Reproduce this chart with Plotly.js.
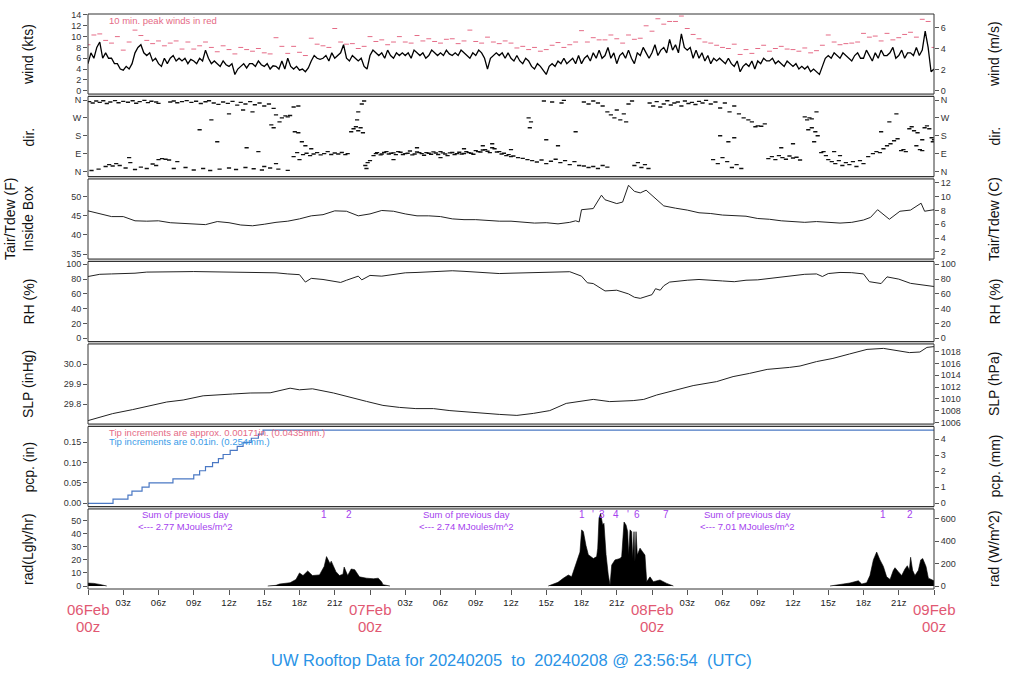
<!DOCTYPE html>
<html><head><meta charset="utf-8">
<script src="https://cdn.plot.ly/plotly-3.0.1.min.js"></script>
<style>html,body{margin:0;padding:0;background:#fff}#chart{width:1024px;height:700px}</style>
</head><body><div id="chart"></div>
<script>
// ---------------- DATA (hours since 06Feb 00z) ----------------
const WIND_STEP = 0.25;
const windMean = [
5,7,6,8, 9,6,7,6, 6,5,5,4, 3.8,4.5,4,5, 7,8,8.5,7, 6.5,7,5.5,6, 5,4.5,6,5, 6,6.5,5.5,6,
5.5,6,5,5.8, 5.5,5,6,5.5, 7.5,6,5,5.5, 5,4.5,5.5,4.8, 4.5,5,3,4, 4.5,5,4.2,5, 5,4.5,5.5,4.8, 4.5,5,4,4.6,
4.5,4,5.5,4, 6,4.5,4,4.5, 3.8,4,3.5,4.2, 5.5,6.5,6,5.8, 6,6.5,5.5,7, 6,6.5,7,8.5, 6,5.5,6.5,6, 5.5,6,4.5,4,
6.5,7.5,7,6.5, 7,6,7.5,6.5, 6,7,6.5,7, 6.5,7,6,7.5, 7,6.5,7,6, 6.5,7.5,7,6.5, 7,6.5,7.5,6.8, 6.5,7,6.5,7.5,
7,6.5,6,7, 6.5,7.5,7,6, 4,6,6.5,7, 6.5,7,6,7,
6,5.5,6.5,5.5, 5,6,5.5,4.5, 4,5,4.5,3.8, 3,4.5,5,4.5, 5.5,5,6,5, 5.5,6,5,6.5, 5,6,6.5,5.5, 7,6,7.5,6,
6.5,8,6,7, 5,6.5,7,6, 7.5,6,5,7, 6.5,8,7,6, 7,8.5,6.5,7.5, 8,7,9.5,7.5, 8.5,7,10.5,8, 7.5,8,6,7.5,
6,7,5.5,6.5, 5,6,5.5,6, 5.5,5,6,5, 4.5,5.5,3.5,4.5, 5,4.5,5.5,4, 5.5,5,6,5.5, 5.5,6,5,5.5, 5,4.5,5.5,5,
4.5,5,4,4.5, 4,4.5,3.5,4, 3.5,3,4.5,6, 6.5,6,7,6.5, 6,7,6.5,6, 5.5,6.5,7,6, 6,7.5,6.5,5.5, 7,6,7.5,6.5,
6.5,7,8,6, 6.5,7.5,6,7, 7,6.5,8,6.5, 7.5,11,8,3.5,
4];
const PEAK_STEP = 0.5;
const windPeak = [
8.5,10.3, 10.5,9.3, 8.8,10.0, 7.5,9.0, 11.2,10.2, 9.3,8.7, 9.2,8.3, 8.8,9.2, 7.7,9.0, 7.7,8.3, 9.0,8.0, 7.2,8.3,
7.6,6.8, 8.0,7.6, 7.3,7.8, 7.0,6.8, 9.8,8.2, 6.9,8.2, 7.1,6.5, 9.7,8.6, 8.3,8.0, 11.5,9.0, 8.6,8.7, 7.8,8.2,
10.0,9.1, 9.4,8.5, 9.0,10.0, 9.0,8.8, 10.2,9.2, 9.6,9.1, 8.8,9.5, 9.6,8.7, 9.2,11.2, 9.1,8.8, 9.9,9.0, 8.7,9.2,
8.8,7.9, 8.2,7.6, 8.0,7.3, 7.6,8.4, 8.9,8.0, 8.5,9.0, 11.1,9.0, 9.8,9.4, 9.4,10.3, 9.6,8.8, 10.3,9.5, 9.7,12.0,
11.0,13.3, 12.3,12.8, 12.8,13.8, 11.5,10.4, 9.6,9.0, 8.8,8.4, 8.0,7.8, 8.6,6.7, 7.6,6.9, 7.8,8.4, 7.3,7.8, 8.2,7.7,
7.6,7.3, 7.9,7.0, 7.4,8.4, 10.3,9.0, 8.5,8.7, 8.8,9.0, 10.6,9.9, 10.1,9.2, 10.6,9.4, 9.8,10.4, 10.8,9.9, 13.2,12.8,
8.0];

const dirHour = [
0.1,0.4,0.7,1.0,1.3,1.6,1.9,2.3,2.6,3.0,3.4,3.8,4.1,4.4,4.8,5.1,5.4,5.8,6.0,
0.3,0.9,1.5,1.8,2.1,2.4,2.7,3.2,3.5,3.6,4.0,4.5,5.0,5.5,5.8,6.0,6.3,6.6,6.9,7.3,7.6,
7.0,7.3,7.6,8.0,8.4,8.8,9.2,9.6,10.0,10.3,10.7,11.1,11.5,11.9,12.3,12.7,13.0,13.4,13.8,14.2,14.6,15.0,15.4,15.8,
9.5,10.5,12.0,13.2,14.0,16.0,16.5,16.8,17.0,17.2,16.3,15.6,15.8,17.5,17.9,11.0,13.5,14.5,16.0,15.0,
8.3,9.0,9.8,10.4,11.2,12.0,12.6,13.4,14.1,14.8,15.5,16.2,17.0,
17.5,17.8,18.0,18.3,18.6,18.9,19.2,19.5,19.8,20.1,20.4,20.7,21.0,21.3,21.6,21.9,22.1,
17.6,17.9,18.2,18.5,19.0,
22.4,22.6,22.8,23.0,23.2,23.4,23.0,23.3,23.5,22.9,
23.6,23.7,23.8,24.0,
24.3,24.6,25.0,25.4,25.8,26.2,26.6,27.0,27.4,27.8,28.2,28.6,29.0,29.4,29.8,30.2,30.6,31.0,31.4,31.8,32.2,32.6,33.0,33.4,33.8,34.2,34.6,35.0,35.4,35.8,36.2,36.6,37.0,37.4,
24.5,24.9,25.2,25.6,26.0,26.4,26.8,27.2,27.6,28.0,28.4,28.8,29.2,29.6,30.0,30.4,30.8,31.2,31.6,32.0,32.4,32.8,33.2,33.6,34.0,34.4,34.8,35.2,35.6,36.0,
26.0,28.0,30.0,32.0,33.6,34.4,36.0,
37.8,38.2,38.6,39.0,39.4,39.8,40.2,40.6,41.0,41.4,41.8,42.2,42.6,43.0,43.4,43.8,44.2,
37.5,37.7,37.6,38.8,39.5,40.3,40.5,39.0,40.0,41.5,
42.2,42.6,43.0,43.4,43.8,44.2,44.5,44.8,45.0,45.3,45.6,46.0,46.3,45.8,
46.5,46.8,47.1,47.4,47.7,
47.8,48.1,48.4,48.7,49.0,49.3,49.6,49.9,50.2,50.5,50.8,51.1,51.4,51.7,52.0,52.3,52.6,53.0,53.4,53.8,54.2,54.6,55.0,55.4,
53.2,53.6,54.0,54.4,54.8,55.2,55.6,54.5,55.0,53.8,
55.8,56.2,56.5,56.8,57.0,57.3,57.6,
57.9,58.2,58.5,58.8,59.1,59.4,59.7,60.0,60.3,60.6,59.0,60.0,
61.0,61.2,61.4,61.6,61.3,61.6,61.9,62.1,61.8,62.0,
62.4,62.6,62.8,63.0,63.3,63.6,63.9,64.2,64.5,64.8,65.1,65.4,65.7,66.0,64.0,63.5,
66.4,66.8,67.1,67.4,67.7,68.0,68.3,68.6,68.9,67.5,68.2,68.8,
69.2,69.4,69.6,69.9,70.1,70.3,70.6,70.8,71.0,71.2,71.4,71.6,71.8,71.9,72.0,70.5,71.0];
const dirDeg = [
352,345,355,348,356,342,350,357,346,353,349,356,344,352,358,347,354,350,343,
5,12,25,35,28,40,30,18,70,45,10,22,15,38,30,60,65,62,58,15,50,
350,355,346,352,357,348,354,342,351,356,345,338,350,343,353,334,348,340,352,336,345,330,340,318,
210,260,290,310,300,285,270,280,275,282,250,235,220,325,330,150,120,100,40,25,
20,8,15,5,12,18,10,20,14,8,18,12,6,
75,95,60,85,92,80,88,95,84,90,100,86,93,88,96,85,90,
200,195,150,130,115,
200,215,225,205,220,195,300,340,355,260,
30,15,45,55,
80,95,88,100,92,85,97,90,103,88,95,82,92,99,86,94,80,96,90,88,100,92,105,98,110,95,115,100,92,85,78,70,66,60,
90,84,96,88,94,100,86,92,84,98,90,95,87,93,100,88,94,86,97,91,95,87,100,108,102,120,98,88,80,75,
60,120,70,115,130,140,110,
55,48,58,40,52,62,45,55,35,50,30,28,20,25,15,30,22,
270,250,220,355,350,345,358,160,130,200,
350,340,355,345,330,300,285,270,310,260,290,340,355,250,
30,45,20,35,15,
345,330,352,325,340,356,335,345,350,330,355,342,348,337,353,345,358,340,350,320,345,300,330,290,
60,40,70,50,20,35,15,150,170,180,
270,260,250,225,230,228,240,
65,75,60,80,70,62,78,68,72,58,120,140,
275,260,270,265,210,220,200,180,150,300,
95,100,80,60,50,40,55,30,45,35,50,25,55,40,80,100,
75,90,100,95,115,130,140,155,165,200,250,290,
105,110,100,215,225,205,195,110,105,220,230,215,170,150,160,130,160];

const tempHour = [0,1,2,3,4,5,6,7,8,9, 10,11,12,13,14,15,16,17,18,19, 20,21,22,23,24,25,26,27,28,29,
 30,31,32,33,34,35,36,37,38,39, 40,41,41.5,41.8,42,43,43.7,44,45,45.5, 46,46.5,47,47.5,48,49,50,51,52,53,
 54,55,56,57,58,59,60,61,62,63, 64,65,66,66.6,67.2,68.2,69.1,70,70.9,71.2, 72];
const tempF = [46.3,45.5,44.8,44.8,43.7,43.6,43.7,43.2,43.0,42.9, 42.7,43.5,43.2,42.6,42.4,42.8,43.3,43.6,44.2,45.0,
 45.3,46.3,46.2,45.0,45.5,46.4,46.2,45.5,45.0,45.0, 44.8,44.2,44.0,44.0,43.8,43.6,43.6,43.4,43.1,43.2,
 42.9,43.3,43.7,43.4,46.6,46.9,50.4,49.2,48.2,48.6, 53.0,51.4,51.0,51.7,50.3,47.6,47.0,46.5,45.8,45.6,
 45.2,45.0,44.9,44.3,44.1,43.7,43.5,43.3,43.5,43.3, 43.1,43.3,43.9,44.6,46.6,44.1,46.2,46.5,48.3,46.2, 46.6];

const rhHour = [0,1,2,3,4,5,6,7,8,9, 10,11,12,13,14,15,16,17,18,18.5, 19,20,21,21.5,22,23,23.3,24,25,26,
 27,28,29,30,31,32,33,34,35,36, 37,38,39,40,41,42,42.5,43,44,45, 46,46.5,47,48,48.3,48.7,49,49.5,50,51,
 52,53,54,55,56,57,58,59,60,61, 62,62.5,63,64,65,66,66.5,67,67.5,68, 69,70,71,72];
const rhPct = [83.5,86.5,87.0,87.3,88.0,89.5,90.0,89.7,90.0,90.2, 90.0,89.5,89.5,89.0,89.0,88.7,88.5,87.0,86.0,76.0,
 81.0,79.5,76.5,75.5,78.5,84.0,79.0,85.0,84.0,86.5, 88.5,89.0,89.5,90.5,91.3,90.5,89.5,88.5,87.5,88.0,
 88.5,89.0,89.2,89.5,90.0,84.0,75.0,74.0,64.0,65.0, 60.0,55.5,54.0,59.0,67.0,65.0,71.0,76.0,77.0,78.5,
 79.5,79.0,77.5,76.5,78.5,79.0,81.0,83.0,85.5,86.5, 87.0,83.5,87.5,89.0,88.7,87.0,76.5,75.5,74.0,83.0,
 80.0,74.3,72.0,70.0];

const slpHour = [0,2.1,3.8,5.8,6.7,8.1,9.8,12.3,13.8,15.5, 17.2,18.0,19.1,20.9,22.3,23.7,25.1,26.5,27.9,29.4,
 30.8,32.2,33.6,35.0,36.5,37.9,39.3,40.7,43.0,44.4, 46.4,47.3,48.4,50.1,51.5,53.5,54.9,56.3,57.8,59.7,
 60.6,62.0,63.4,64.8,66.3,67.7,69.1,69.9,70.8,71.4, 72];
const slpInHg = [29.717,29.752,29.772,29.797,29.81,29.82,29.841,29.85,29.855,29.856,
 29.879,29.871,29.876,29.855,29.833,29.813,29.793,29.783,29.777,29.777,
 29.767,29.760,29.752,29.748,29.743,29.753,29.767,29.803,29.823,29.812,
 29.817,29.823,29.845,29.87,29.892,29.912,29.937,29.953,29.973,29.983,
 29.99,30.012,30.028,30.05,30.073,30.078,30.067,30.057,30.06,30.083, 30.087];

const pcpHour = [0,2.13,3.4,3.74,4.6,5.2,7.23,9.0,9.5,10.0,10.6,11.1,11.5,12.1,12.7,13.2,13.9,14.5,14.9,72];
const pcpIn = [0,0.01,0.02,0.03,0.04,0.05,0.06,0.07,0.08,0.09,0.10,0.11,0.12,0.13,0.14,0.15,0.16,0.17,0.18,0.18];

const radHour = [0,0.5,1.0,1.5,1.6, 8,
 15.3,16.0,16.3,17.2,17.7,18.0,18.3,18.7,19.1,19.7,20.1,20.3,20.6,20.7,21.1,21.4,21.7,21.8,22.1,22.4,22.7,23.1,23.7,24.3,24.7,25.0,25.1,25.7, 32,
 39.17,39.6,40.0,40.45,40.88,41.16,41.73,41.87,42.01,42.16,42.38,42.58,43.01,43.29,43.38,43.49,43.63,43.80,43.91,44.09,
 44.28,44.43,44.57,44.85,45.28,45.42,45.62,45.79,45.93,46.01,46.13,46.27,46.35,46.47,46.55,46.64,46.75,46.98,47.21,47.40,
 47.55,47.83,48.11,48.68,49.25,49.82, 56,
 63.15,64.0,64.85,65.56,65.85,66.27,66.55,66.84,67.12,67.4,67.69,67.97,68.26,68.54,68.68,68.96,69.25,69.53,69.73,69.9,
 70.01,70.18,70.38,70.67,70.87,71.04,71.32,71.52,71.8,72.0];
const radLgly = [2.2,2.0,1.2,0.5,0, null,
 0,0.5,1.5,2.5,5,10,8,11.5,8,8.5,15,22.5,17,19,11,8,9,14.5,8,13,12.5,7,6,5.5,6,3,1,0, null,
 0,1.3,2.8,5.9,8.4,7.1,21,26,43,41.6,31,24,21,22.5,29,52,55.6,46.7,48,24,
 8.4,0.8,16,20,21,22.5,49,46.7,41.6,23.7,43,41.6,21,41.6,18.6,41.6,23.7,29,26,23.7,
 3.3,7,3.3,4.6,2,0, null,
 0,1.3,2.3,4,1.5,2.5,8,20,26,20,15,7,5,12,14,11,8,13,15.5,12,
 22,12,8,12,20,21,15,6,5,4];

const hourTicks = [0,3,6,9,12,15,18,21,24,27,30,33,36,39,42,45,48,51,54,57,60,63,66,69,72];
const hourTickText = ["","03z","06z","09z","12z","15z","18z","21z","","03z","06z","09z","12z","15z","18z","21z","","03z","06z","09z","12z","15z","18z","21z",""];
const dayHours = [0,24,48,72];
const dayLabels = ["06Feb","07Feb","08Feb","09Feb"];
const radSumHours = [8.26,32.17,56.09];
const radSumText = ["2.77","2.74","7.01"];
const radMarkHours = [20.09,22.21,42.04,42.98,43.74,44.94,45.96,46.72,49.19,67.66,69.96];
const radMarkText = ["1","2","1","'","3","4","'","6","7","1","2"];

// ---------------- LAYOUT ----------------
const FONT = 'Liberation Sans, Arial, sans-serif';
const KT_PER_MS = 1.94384, HPA_PER_INHG = 33.8639, MM_PER_IN = 25.4, WM2_PER_LGLYHR = 11.622;
function dom(i){ const top = 14 + i*82.5, bot = top + 80; return [(589-bot)/575, (589-top)/575]; }
const axBase = {showgrid:false, zeroline:false, ticks:'outside', ticklen:4, tickwidth:1, tickcolor:'#555',
  tickfont:{family:FONT, size:9, color:'#333'}, showline:false, fixedrange:true, anchor:'x'};
function L(i, o){ return Object.assign({}, axBase, {domain:dom(i)}, o); }
function R(i, o){ return Object.assign({}, axBase, {overlaying: i===0?'y':'y'+(2*i+1), side:'right'}, o); }

const rng = {
  wind:[-0.61,14.18], dir:[-25,377.6], temp:[33.71,54.63], rh:[-4.3,103.8],
  slp:[29.7,30.1], pcp:[-0.0079,0.1889], rad:[-2.3,58.96]
};

const layout = {
  width:1024, height:700, margin:{l:88, r:90, t:14, b:111}, showlegend:false,
  paper_bgcolor:'#fff', plot_bgcolor:'#fff', font:{family:FONT},
  xaxis:{domain:[0,1], range:[0,72], anchor:'y13', tickvals:hourTicks, ticktext:hourTickText, ticks:'outside',
    ticklen:5, tickcolor:'#555', showgrid:false, zeroline:false, showline:false, fixedrange:true,
    tickfont:{family:FONT, size:9.5, color:'#222'}},
  yaxis: L(0,{range:rng.wind, tickvals:[0,2,4,6,8,10,12,14]}),
  yaxis2: R(0,{range:rng.wind.map(v=>v/KT_PER_MS), tickvals:[0,2,4,6]}),
  yaxis3: L(1,{range:rng.dir, tickvals:[0,90,180,270,360], ticktext:['N','E','S','W','N']}),
  yaxis4: R(1,{range:rng.dir, tickvals:[0,90,180,270,360], ticktext:['N','E','S','W','N']}),
  yaxis5: L(2,{range:rng.temp, tickvals:[35,40,45,50]}),
  yaxis6: R(2,{range:rng.temp.map(v=>(v-32)/1.8), tickvals:[2,4,6,8,10,12]}),
  yaxis7: L(3,{range:rng.rh, tickvals:[0,20,40,60,80,100]}),
  yaxis8: R(3,{range:rng.rh, tickvals:[0,20,40,60,80,100]}),
  yaxis9: L(4,{range:rng.slp, tickvals:[29.8,29.9,30.0], ticktext:['29.8','29.9','30.0']}),
  yaxis10: R(4,{range:rng.slp.map(v=>v*HPA_PER_INHG), tickvals:[1006,1008,1010,1012,1014,1016,1018]}),
  yaxis11: L(5,{range:rng.pcp, tickvals:[0,0.05,0.10,0.15], ticktext:['0.00','0.05','0.10','0.15']}),
  yaxis12: R(5,{range:rng.pcp.map(v=>v*MM_PER_IN), tickvals:[0,1,2,3,4]}),
  yaxis13: L(6,{range:rng.rad, tickvals:[0,10,20,30,40,50]}),
  yaxis14: R(6,{range:rng.rad.map(v=>v*WM2_PER_LGLYHR), tickvals:[0,200,400,600]}),
  shapes:[], annotations:[]
};

for (let i=0;i<7;i++){
  const d = dom(i);
  if (i<6){
    const dn = dom(i+1);
    layout.shapes.push({type:'rect', xref:'paper', yref:'paper', x0:0, x1:1, y0:dn[1], y1:d[0],
      line:{width:0}, fillcolor:'#c4c4c4', layer:'above'});
  }
  layout.shapes.push({type:'rect', xref:'paper', yref:'paper', x0:0, x1:1, y0:d[0], y1:d[1],
    line:{color:'#333', width:1}, fillcolor:'rgba(0,0,0,0)', layer:'above'});
}

const leftTitles = ['wind (kts)','dir.','Tair/Tdew (F)<br>Inside Box','RH (%)','SLP (inHg)','pcp. (in)','rad(Lgly/hr)'];
const rightTitles = ['wind (m/s)','dir.','Tair/Tdew (C)','RH (%)','SLP (hPa)','pcp. (mm)','rad (W/m^2)'];
leftTitles.forEach((t,i)=>{
  const d = dom(i);
  layout.annotations.push({text:t, xref:'paper', yref:'paper', x:(i===2? (19-88):(28-88))/846, y:(d[0]+d[1])/2,
    textangle:-90, showarrow:false, xanchor:'center', yanchor:'middle', font:{family:FONT, size:14, color:'#111'}});
});
rightTitles.forEach((t,i)=>{
  const d = dom(i);
  layout.annotations.push({text:t, xref:'paper', yref:'paper', x:(994-88)/846, y:(d[0]+d[1])/2,
    textangle:-90, showarrow:false, xanchor:'center', yanchor:'middle', font:{family:FONT, size:14, color:'#111'}});
});

const RED = '#e56b86', PURPLE = '#a541ee', DAYRED = '#e15872', TITLEBLUE = '#2a93e6';
layout.annotations.push({text:'10 min. peak winds in red', xref:'x', yref:'y', x:1.62, y:13.07, xanchor:'left',
  yanchor:'middle', showarrow:false, font:{family:FONT, size:9.5, color:RED}});
layout.annotations.push({text:'Tip increments are approx. 0.00171in. (0.0435mm.)', xref:'x', yref:'y11', x:1.62, y:0.1735,
  xanchor:'left', yanchor:'middle', showarrow:false, font:{family:FONT, size:9.5, color:RED}});
layout.annotations.push({text:'Tip increments are 0.01in. (0.254mm.)', xref:'x', yref:'y11', x:1.62, y:0.151,
  xanchor:'left', yanchor:'middle', showarrow:false, font:{family:FONT, size:9.5, color:'#3a9be8'}});
radSumHours.forEach((h,i)=>{
  layout.annotations.push({text:'Sum of previous day<br>&lt;--- '+radSumText[i]+' MJoules/m^2', xref:'x', yref:'y13',
    x:h, y:50.2, xanchor:'center', yanchor:'middle', showarrow:false, font:{family:FONT, size:9.5, color:PURPLE}});
});
radMarkHours.forEach((h,i)=>{
  layout.annotations.push({text:radMarkText[i], xref:'x', yref:'y13', x:h, y:55.1, xanchor:'center', yanchor:'middle',
    showarrow:false, font:{family:FONT, size:10, color:PURPLE}});
});
dayHours.forEach((h,i)=>{
  layout.annotations.push({text:dayLabels[i], xref:'x', yref:'paper', x:h, y:(589-609)/575, xanchor:'center', yanchor:'middle',
    showarrow:false, font:{family:FONT, size:15, color:DAYRED}});
  layout.annotations.push({text:'00z', xref:'x', yref:'paper', x:h, y:(589-627)/575, xanchor:'center', yanchor:'middle',
    showarrow:false, font:{family:FONT, size:15, color:DAYRED}});
});
layout.annotations.push({text:'UW Rooftop Data for 20240205\u00a0 to\u00a0 20240208 @ 23:56:54\u00a0 (UTC)', xref:'paper', yref:'paper',
  x:(511-88)/846, y:(589-660)/575, xanchor:'center', yanchor:'middle', showarrow:false, font:{family:FONT, size:16.5, color:TITLEBLUE}});

// ---------------- TRACES ----------------
const traces = [];
traces.push({x:windMean.map((_,i)=>i*WIND_STEP), y:windMean, xaxis:'x', yaxis:'y', mode:'lines',
  line:{color:'#000', width:1.3}, hoverinfo:'skip'});
traces.push({x:windPeak.map((_,i)=>i*PEAK_STEP), y:windPeak, xaxis:'x', yaxis:'y', mode:'markers',
  marker:{symbol:'line-ew', size:3.5, line:{color:RED, width:1}}, hoverinfo:'skip'});
traces.push({x:dirHour, y:dirDeg, xaxis:'x', yaxis:'y3', mode:'markers',
  marker:{symbol:'line-ew', size:3, line:{color:'#111', width:1.4}}, hoverinfo:'skip'});
traces.push({x:tempHour, y:tempF, xaxis:'x', yaxis:'y5', mode:'lines', line:{color:'#222', width:1}, hoverinfo:'skip'});
traces.push({x:rhHour, y:rhPct, xaxis:'x', yaxis:'y7', mode:'lines', line:{color:'#222', width:1}, hoverinfo:'skip'});
traces.push({x:slpHour, y:slpInHg, xaxis:'x', yaxis:'y9', mode:'lines', line:{color:'#222', width:1}, hoverinfo:'skip'});
traces.push({x:pcpHour, y:pcpIn, xaxis:'x', yaxis:'y11', mode:'lines', line:{color:'#4a78c4', width:1.2, shape:'hv'}, hoverinfo:'skip'});
traces.push({x:radHour, y:radLgly, xaxis:'x', yaxis:'y13', mode:'lines', fill:'tozeroy', fillcolor:'#000',
  line:{color:'#000', width:0.6}, connectgaps:false, hoverinfo:'skip'});
// invisible carriers for the right-hand unit axes
for (let i=0;i<7;i++){
  const ax = 'y'+(2*i+2);
  const r = layout['yaxis'+(2*i+2)].range;
  traces.push({x:[0,72], y:r, xaxis:'x', yaxis:ax, mode:'lines', line:{width:0, color:'rgba(0,0,0,0)'}, hoverinfo:'skip'});
}

Plotly.newPlot('chart', traces, layout, {displayModeBar:false, staticPlot:true});
</script>
</body></html>
